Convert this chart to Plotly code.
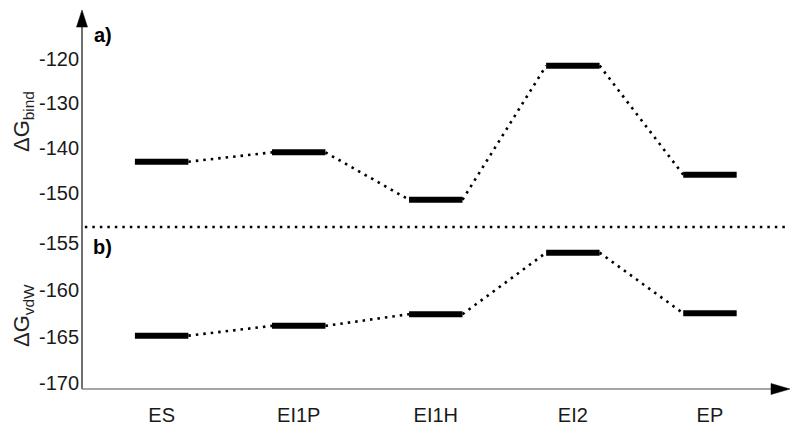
import plotly.graph_objects as go

# ---- data ----
states = ["ES", "EI1P", "EI1H", "EI2", "EP"]
dg_bind = [-143.1, -141.0, -151.6, -121.6, -146.0]
dg_vdw = [-164.9, -163.85, -162.6, -156.0, -162.5]
top_ticks = [-120, -130, -140, -150]
bottom_ticks = [-155, -160, -165, -170]

HALF = 0.195
xs = list(range(len(states)))


def level_xy(vals):
    x, y = [], []
    for i, v in zip(xs, vals):
        x += [i - HALF, i + HALF, None]
        y += [v, v, None]
    return x, y


def conn_xy(vals):
    x, y = [], []
    for i in range(len(vals) - 1):
        x += [xs[i] + HALF, xs[i + 1] - HALF, None]
        y += [vals[i], vals[i + 1], None]
    return x, y


fig = go.Figure()
for vals, yax in [(dg_bind, "y"), (dg_vdw, "y2")]:
    cx, cy = conn_xy(vals)
    fig.add_trace(go.Scatter(x=cx, y=cy, yaxis=yax, mode="lines",
                             line=dict(color="black", width=2.6, dash="2.5px,5px"),
                             hoverinfo="skip", showlegend=False))
    lx, ly = level_xy(vals)
    fig.add_trace(go.Scatter(x=lx, y=ly, yaxis=yax, mode="lines",
                             line=dict(color="black", width=6),
                             showlegend=False))

W, H = 708, 379  # plot area pixels
div = (389 - 227) / H

shapes = [
    dict(type="line", xref="paper", yref="paper", x0=0, x1=0, y0=0, y1=0.965,
         line=dict(color="#111", width=1.2)),
    dict(type="path", xref="paper", yref="paper",
         path=f"M {-5.5/W} {0.955} L 0 1 L {5.5/W} {0.955} Z",
         fillcolor="black", line=dict(color="black", width=0.5)),
    dict(type="line", xref="paper", yref="paper", x0=0, x1=0.975, y0=0, y1=0,
         line=dict(color="#888", width=1.6)),
    dict(type="path", xref="paper", yref="paper",
         path=f"M {(771-82)/W} {5.5/H} L 1 0 L {(771-82)/W} {-5.5/H} Z",
         fillcolor="black", line=dict(color="black", width=0.5)),
    dict(type="line", xref="paper", yref="paper", x0=0.004, x1=(787-82)/W, y0=div, y1=div,
         line=dict(color="black", width=2.6, dash="2.5px,5px")),
]

font = "Liberation Sans, Arial, sans-serif"
annotations = [
    dict(text="<b>a)</b>", xref="paper", yref="paper", x=(92-82)/W, y=(389-35)/H,
         xanchor="left", yanchor="middle", showarrow=False, font=dict(size=20, color="black")),
    dict(text="<b>b)</b>", xref="paper", yref="paper", x=(91-82)/W, y=(389-247)/H,
         xanchor="left", yanchor="middle", showarrow=False, font=dict(size=20, color="black")),
    dict(text="ΔG<sub>bind</sub>", xref="paper", yref="paper", x=(23-82)/W, y=(389-122)/H,
         xanchor="center", yanchor="middle", textangle=-90, showarrow=False,
         font=dict(size=22, color="#222")),
    dict(text="ΔG<sub>vdW</sub>", xref="paper", yref="paper", x=(23-82)/W, y=(389-316)/H,
         xanchor="center", yanchor="middle", textangle=-90, showarrow=False,
         font=dict(size=22, color="#222")),
]

axis_common = dict(showgrid=False, zeroline=False, showline=False, ticks="",
                   tickfont=dict(size=20, color="#1a1a1a"), automargin=False)

fig.update_layout(
    width=792, height=426,
    margin=dict(l=74, r=10, t=2, b=45),
    paper_bgcolor="white", plot_bgcolor="white",
    font=dict(family=font),
    xaxis=dict(range=[-0.581, 4.584], tickvals=xs, ticktext=states, anchor="y2",
               ticklabelstandoff=12, **axis_common),
    yaxis=dict(domain=[div, 1], range=[-157.7, -109.15], tickvals=top_ticks,
               ticktext=[str(t) for t in top_ticks], ticklabelstandoff=2, **axis_common),
    yaxis2=dict(domain=[0, div], range=[-170.62, -153.25], tickvals=bottom_ticks,
                ticktext=[str(t) for t in bottom_ticks], ticklabelstandoff=2, **axis_common),
    shapes=shapes,
    annotations=annotations,
)

fig.write_html("out.html")
